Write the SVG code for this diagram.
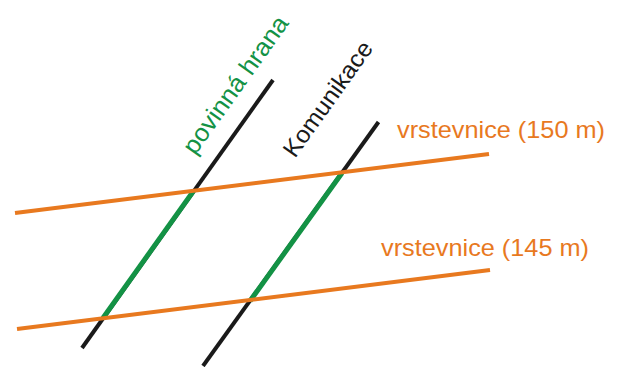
<svg xmlns="http://www.w3.org/2000/svg" width="620" height="367" viewBox="0 0 620 367">
<style>
.road{stroke:#1a1a1a;stroke-width:4;fill:none}
.edge{stroke:#139245;stroke-width:5;fill:none}
.contour{stroke:#E8791F;stroke-width:4;fill:none}
text{font-family:"Liberation Sans",Arial,sans-serif;font-size:24px}
.lo{fill:#E8791F}
.lg{fill:#139245}
.lk{fill:#1a1a1a}
</style>
<rect width="620" height="367" fill="#ffffff"/>
<g id="roads">
<line class="road" x1="273" y1="80" x2="82" y2="348"/>
<line class="road" x1="378.5" y1="122" x2="203" y2="366"/>
</g>
<g id="mandatory-edges">
<line class="edge" x1="193.5" y1="191" x2="103" y2="318"/>
<line class="edge" x1="342" y1="173" x2="250" y2="301"/>
</g>
<g id="contours">
<line class="contour" x1="15" y1="213" x2="489" y2="154"/>
<line class="contour" x1="17" y1="329" x2="490" y2="270"/>
</g>
<g id="labels">
<text class="lo" x="397" y="138" textLength="208" lengthAdjust="spacingAndGlyphs">vrstevnice (150 m)</text>
<text class="lo" x="381" y="256" textLength="208" lengthAdjust="spacingAndGlyphs">vrstevnice (145 m)</text>
<text class="lg" style="font-size:25px" transform="translate(195,156) rotate(-54.5)" textLength="163" lengthAdjust="spacingAndGlyphs">povinná hrana</text>
<text class="lk" transform="translate(295,159) rotate(-54.5)" textLength="136" lengthAdjust="spacingAndGlyphs">Komunikace</text>
</g>
</svg>
